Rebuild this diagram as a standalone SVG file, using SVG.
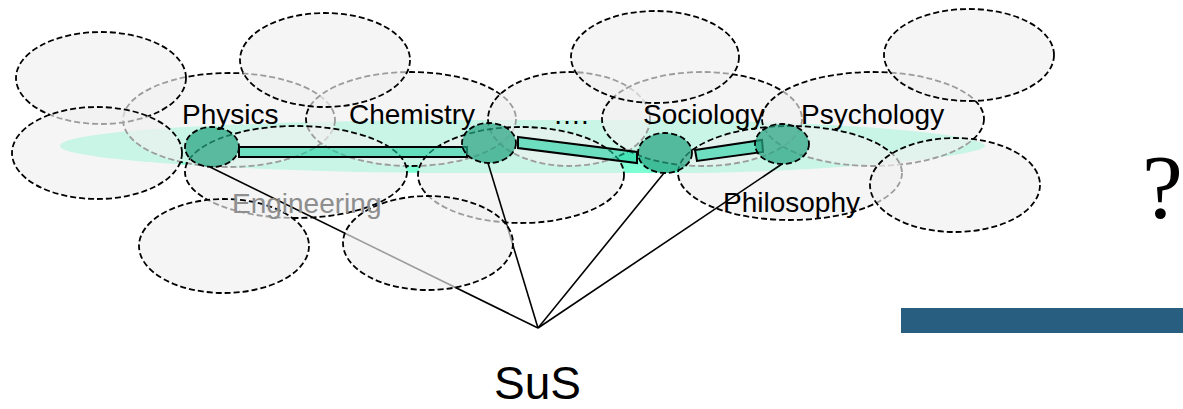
<svg xmlns="http://www.w3.org/2000/svg" width="1183" height="409" viewBox="0 0 1183 409">
<style>
.f{fill:#efefef;fill-opacity:0.65;stroke:#000;stroke-width:1.8;stroke-dasharray:6 3}
.n{fill:#26a381;fill-opacity:0.72;stroke:#000;stroke-width:1.8;stroke-dasharray:6 3}
.b{fill:#19cfa1;fill-opacity:0.58;stroke:#000;stroke-width:2}
.l{stroke:#000;stroke-width:1.6;fill:none}
.t{font-family:"Liberation Sans",Arial,sans-serif;font-size:28px;fill:#000}
</style>
<rect width="1183" height="409" fill="#fff"/>
<g id="band">
<path d="M60 146 C60 130 250 121 450 120 L650 120 C850 121 985 135 985 146 C985 154 870 170 700 173 L450 173 C250 172 60 160 60 146 Z" fill="#7fffd4"/>
</g>
<g id="fields-middle">
<g id="field-physics"><ellipse class="f" cx="229" cy="120" rx="106" ry="47"/></g>
<g id="field-chemistry"><ellipse class="f" cx="411" cy="119" rx="105" ry="47"/></g>
<g id="field-more"><ellipse class="f" cx="569" cy="119" rx="81" ry="47"/></g>
<g id="field-sociology"><ellipse class="f" cx="702" cy="119" rx="100" ry="47"/></g>
<g id="field-psychology"><ellipse class="f" cx="873" cy="119" rx="111" ry="47"/></g>
</g>
<g id="fields-top">
<g id="field-top-1"><ellipse class="f" cx="101" cy="78" rx="85" ry="46"/></g>
<g id="field-top-2"><ellipse class="f" cx="325" cy="60" rx="85" ry="47"/></g>
<g id="field-top-3"><ellipse class="f" cx="655" cy="57" rx="84" ry="46"/></g>
<g id="field-top-4"><ellipse class="f" cx="969" cy="55" rx="85" ry="46"/></g>
</g>
<g id="fields-lower">
<g id="field-left"><ellipse class="f" cx="97" cy="153" rx="85" ry="46"/></g>
<g id="field-lower-mid"><ellipse class="f" cx="521" cy="175" rx="103" ry="48"/></g>
<g id="field-engineering"><ellipse class="f" cx="296" cy="172" rx="111" ry="46"/></g>
<g id="field-philosophy"><ellipse class="f" cx="790" cy="173" rx="112" ry="47"/></g>
<g id="field-right"><ellipse class="f" cx="955" cy="185" rx="85" ry="47"/></g>
</g>
<g id="connectors">
<line class="l" x1="210" y1="167" x2="538" y2="328"/>
<line class="l" x1="488" y1="163" x2="538" y2="328"/>
<line class="l" x1="664" y1="173" x2="538" y2="328"/>
<line class="l" x1="782" y1="164" x2="538" y2="328"/>
</g>
<g id="fields-bottom">
<g id="field-bottom-1"><ellipse class="f" cx="224" cy="246" rx="85" ry="47"/></g>
<g id="field-bottom-2"><ellipse class="f" cx="428" cy="243" rx="85" ry="47"/></g>
</g>
<g id="links">
<polygon class="b" points="239,147 467,147 467,157 239,157"/>
<polygon class="b" points="518,137 637,152 637,163 518,148"/>
<polygon class="b" points="695,150 762,140 763,152 697,161"/>
</g>
<g id="node-physics"><ellipse class="n" cx="212" cy="147" rx="27" ry="20"/></g>
<g id="node-chemistry"><ellipse class="n" cx="489" cy="143" rx="27" ry="20"/></g>
<g id="node-sociology"><ellipse class="n" cx="665" cy="153" rx="27" ry="20"/></g>
<g id="node-psychology"><ellipse class="n" cx="782" cy="144" rx="27" ry="20"/></g>
<g id="labels">
<text class="t" x="182" y="124">Physics</text>
<text class="t" x="349" y="124">Chemistry</text>
<text class="t" x="553" y="124">….</text>
<text class="t" x="643" y="124">Sociology</text>
<text class="t" x="801" y="124">Psychology</text>
<text class="t" x="232" y="213" style="fill:#8e8e8e">Engineering</text>
<text class="t" x="723" y="212">Philosophy</text>
</g>
<g id="node-sus">
<text x="494" y="399" style="font-family:'Liberation Sans',Arial,sans-serif;font-size:46px;fill:#000">SuS</text>
</g>
<g id="question">
<text x="1142" y="218" style="font-family:'Liberation Serif','Times New Roman',serif;font-size:92px;fill:#000">?</text>
</g>
<rect id="blue-bar" x="901" y="308" width="282" height="25" fill="#285f80"/>
</svg>
